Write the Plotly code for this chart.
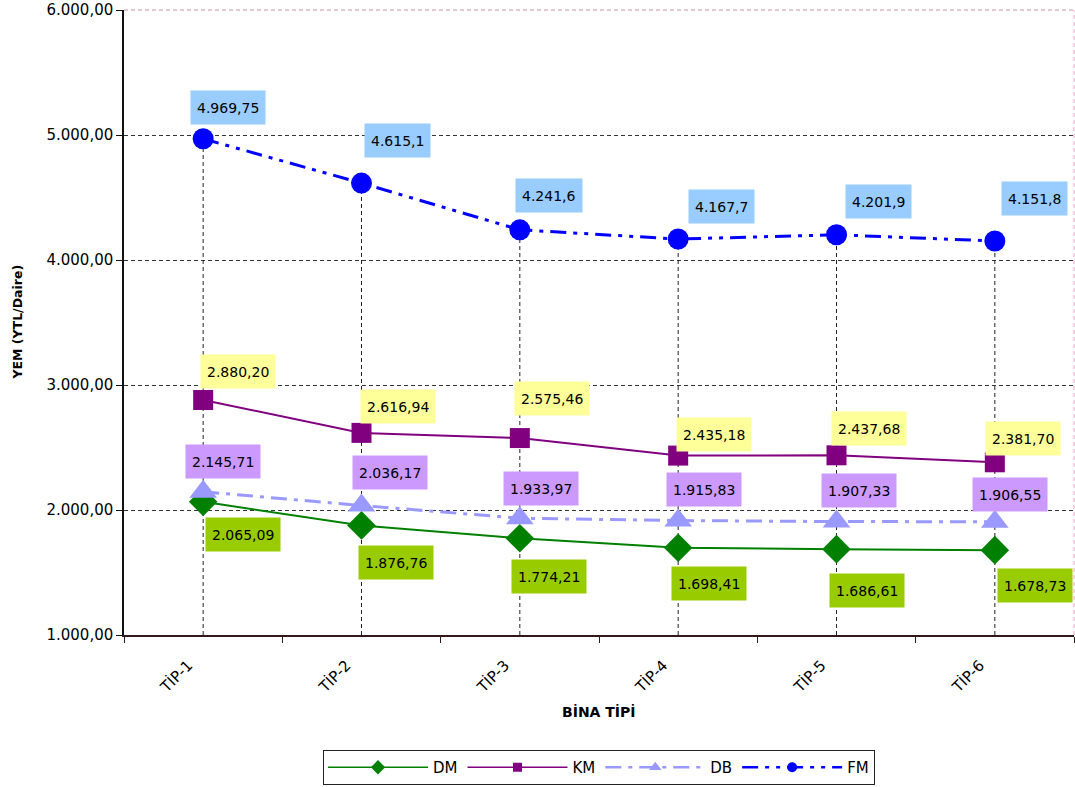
import plotly.graph_objects as go

# Building types on the category axis
categories = ["TİP-1", "TİP-2", "TİP-3", "TİP-4", "TİP-5", "TİP-6"]

# YEM (YTL/Daire) per building type and method
dm_values = [2065.09, 1876.76, 1774.21, 1698.41, 1686.61, 1678.73]
km_values = [2880.20, 2616.94, 2575.46, 2435.18, 2437.68, 2381.70]
db_values = [2145.71, 2036.17, 1933.97, 1915.83, 1907.33, 1906.55]
fm_values = [4969.75, 4615.1, 4241.6, 4167.7, 4201.9, 4151.8]

y_ticks = [1000, 2000, 3000, 4000, 5000, 6000]

FONT = "DejaVu Sans"


def tr_number(v, fixed=True):
    """Format a number with Turkish separators (1.234,56)."""
    s = f"{v:,.2f}" if fixed else f"{v:,}"
    return s.replace(",", "#").replace(".", ",").replace("#", ".")


series = [
    # name, values, line colour, dash, width, marker symbol, marker size, legend marker size, label bg, fixed decimals
    ("DM", dm_values, "#008000", "solid", 2, "diamond", 22, 11, "#99CC00", True),
    ("KM", km_values, "#800080", "solid", 2, "square", 20, 9, "#FFFF99", True),
    ("DB", db_values, "#9999FF", "16px,7px,4px,7px", 3, "triangle-up", 24, 11, "#CC99FF", True),
    ("FM", fm_values, "#0000FF", "16px,7px,4px,7px,4px,7px", 3, "circle", 21, 10, "#99CCFF", False),
]

# pixel offsets of each value box from its marker
label_offsets = {
    "DM": [(40, 33), (34, 37), (29, 38), (31, 36), (30, 41), (40, 35)],
    "KM": [(35, -28), (36, -26), (32, -40), (36, -21), (32, -27), (28, -24)],
    "DB": [(20, -30), (28, -33), (21, -30), (26, -31), (22, -31), (15, -27)],
    "FM": [(25, -31), (36, -43), (29, -34), (43, -33), (42, -33), (40, -43)],
}

fig = go.Figure()

# drop lines from the highest series down to the category axis
drop_x, drop_y = [], []
for c, v in zip(categories, fm_values):
    drop_x += [c, c, None]
    drop_y += [y_ticks[0], v, None]
fig.add_trace(go.Scatter(
    x=drop_x, y=drop_y, mode="lines",
    line=dict(color="#222222", width=1, dash="4px,3px"),
    showlegend=False, hoverinfo="skip",
))

annotations = []
for name, vals, color, dash, width, symbol, msize, lsize, bg, fixed in series:
    fig.add_trace(go.Scatter(
        x=categories, y=vals, name=name, mode="lines+markers",
        legendgroup=name, showlegend=False,
        line=dict(color=color, width=width, dash=dash),
        marker=dict(symbol=symbol, size=msize, color=color),
    ))
    # legend entry with a smaller marker and thinner line
    fig.add_trace(go.Scatter(
        x=[None], y=[None], name=name, mode="lines+markers",
        legendgroup=name, showlegend=True, hoverinfo="skip",
        line=dict(color=color, width=max(width - 0.5, 1.5), dash=dash),
        marker=dict(symbol=symbol, size=lsize, color=color),
    ))
    for c, v, (ox, oy) in zip(categories, vals, label_offsets[name]):
        annotations.append(dict(
            x=c, y=v, xref="x", yref="y",
            text=tr_number(v, fixed),
            showarrow=True, arrowcolor="rgba(0,0,0,0)", ax=ox, ay=oy,
            bgcolor=bg, borderpad=6, height=21,
            font=dict(family=FONT, size=14, color="#000000"),
        ))

# axis titles
annotations.append(dict(
    text="<b>BİNA TİPİ</b>", xref="paper", yref="paper", x=0.5, y=-0.123,
    xanchor="center", yanchor="middle", showarrow=False,
    font=dict(family=FONT, size=14, color="#000000"),
))
annotations.append(dict(
    text="<b>YEM (YTL/Daire)</b>", xref="paper", yref="paper", x=-0.1126, y=0.5,
    xanchor="center", yanchor="middle", showarrow=False, textangle=-90,
    font=dict(family=FONT, size=12.5, color="#000000"),
))

fig.update_layout(
    width=1075, height=787,
    margin=dict(l=124, r=1, t=10, b=152, autoexpand=False),
    plot_bgcolor="white", paper_bgcolor="white",
    separators=",.",
    annotations=annotations,
    showlegend=True,
    legend=dict(
        orientation="h", x=0.5, xanchor="center", y=-0.24, yanchor="bottom",
        bordercolor="#222222", borderwidth=1,
        font=dict(family=FONT, size=15, color="#000000"),
        itemwidth=100, tracegroupgap=0,
    ),
    shapes=[
        dict(type="line", xref="paper", yref="paper", x0=0, x1=1, y0=1, y1=1,
             line=dict(color="#CC8FAA", width=1, dash="4px,3px")),
        dict(type="line", xref="paper", yref="paper", x0=1, x1=1, y0=0, y1=1,
             line=dict(color="#F0A0C0", width=1, dash="4px,3px")),
    ],
)

fig.update_xaxes(
    type="category", range=[-0.5, 5.5], automargin=False,
    showgrid=False, showline=True, linecolor="#301818", linewidth=1.5,
    ticks="outside", tickson="boundaries", ticklen=6, tickcolor="#301818",
    tickangle=-45, tickfont=dict(family=FONT, size=15, color="#000000"),
    ticklabelstandoff=14, ticklabelshift=-15,
    zeroline=False,
)
fig.update_yaxes(
    range=[1000, 6000], tickvals=y_ticks, tickformat=",.2f", automargin=False,
    showgrid=True, gridcolor="#333333", gridwidth=1, griddash="4px,3px",
    showline=True, linecolor="#111111", linewidth=1.5,
    ticks="outside", ticklen=6, tickcolor="#111111",
    tickfont=dict(family=FONT, size=15, color="#000000"),
    zeroline=False,
)

fig.write_html("out.html")
